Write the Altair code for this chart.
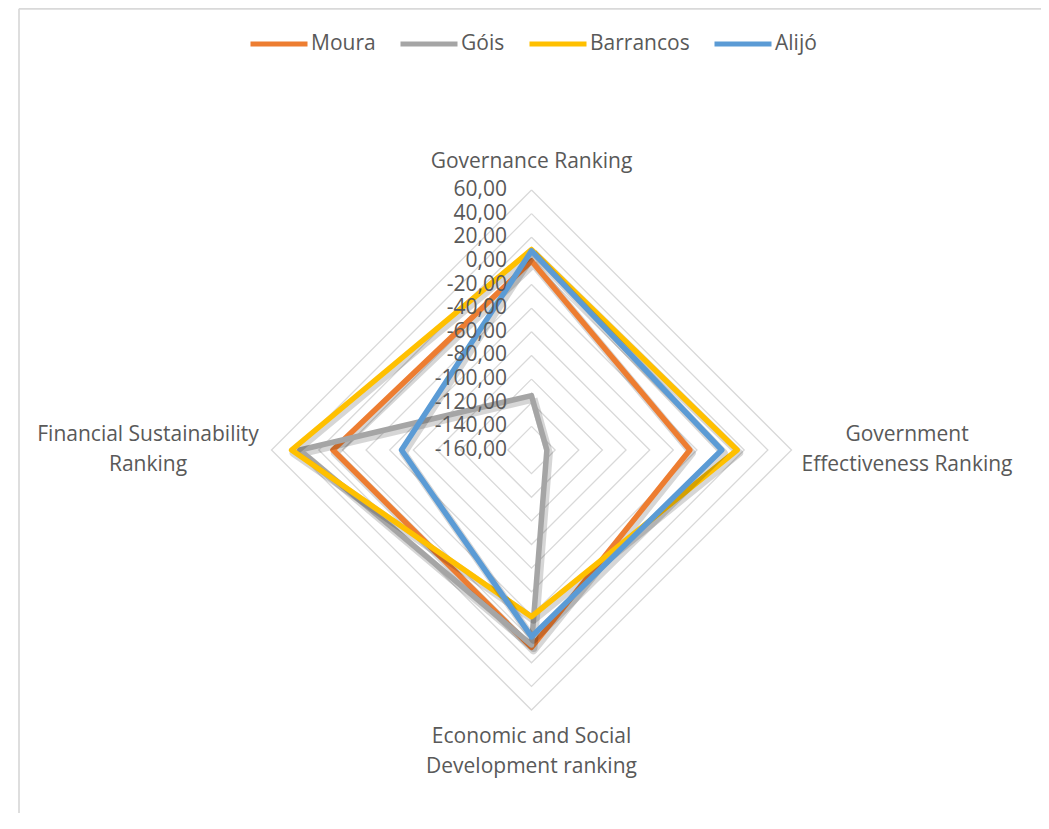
import altair as alt
import pandas as pd

# ---------------- data ----------------
axis_labels = [
    "Governance Ranking",
    "Government\nEffectiveness Ranking",
    "Economic and Social\nDevelopment ranking",
    "Financial Sustainability\nRanking",
]
series = ["Moura", "Góis", "Barrancos", "Alijó"]
moura = [0, -26, 7, 8]
gois = [-114, -147, 5, 36]
barrancos = [9.5, 14, -19, 43]
alijo = [8.5, 1, -2, -50]
ticks = [60, 40, 20, 0, -20, -40, -60, -80, -100, -120, -140, -160]
tick_labels = ["60,00", "40,00", "20,00", "0,00", "-20,00", "-40,00", "-60,00",
               "-80,00", "-100,00", "-120,00", "-140,00", "-160,00"]
colors = ["#ED7D31", "#A5A5A5", "#FFC000", "#5B9BD5"]

# ---------------- layout (page pixels) ----------------
W, H = 1033, 805
CX, CY, R = 531.5, 450.0, 260.0
VMIN, VMAX = -160.0, 60.0
LABEL_DIST = [288, 375.5, 302, 383.5]
LINE_H = 30
FONT = "Open Sans"
FS = 21
TXT = "#595959"
GRID = "#D9D9D9"

values = {"Moura": moura, "Góis": gois, "Barrancos": barrancos, "Alijó": alijo}
rows = []
for s in series:
    v = values[s]
    for k in range(5):
        rows.append({"series": s, "idx": k % 4, "ord": k, "value": v[k % 4]})
lines_df = pd.DataFrame(rows)

ring_rows = []
for t in ticks:
    for k in range(5):
        ring_rows.append({"t": t, "idx": k % 4, "ord": k, "value": t})
rings_df = pd.DataFrame(ring_rows)

ticks_df = pd.DataFrame({"value": ticks, "label": tick_labels, "idx": 0})
lab_df = pd.DataFrame({"label": axis_labels, "idx": list(range(4))})

r_expr = f"(datum.value - ({VMIN})) / ({VMAX - VMIN}) * {R}"
x_expr = f"{CX} + datum.r * sin(datum.idx * PI / 2)"
y_expr = f"{CY} - datum.r * cos(datum.idx * PI / 2)"

x_scale = alt.Scale(domain=[8, 8 + W], nice=False, zero=False)
y_scale = alt.Scale(domain=[8, 8 + H], nice=False, zero=False, reverse=True)
xs = alt.X("x:Q", scale=x_scale, axis=None)
ys = alt.Y("y:Q", scale=y_scale, axis=None)

color_scale = alt.Scale(domain=series, range=colors)
legend = alt.Legend(
    orient="none", legendX=240, legendY=5, direction="horizontal", title=None,
    symbolType="stroke", symbolSize=3249, symbolStrokeWidth=5,
    labelFontSize=FS, labelFont=FONT, labelColor=TXT, labelOffset=1,
    columnPadding=14, padding=0,
)

def polar(ch):
    return ch.transform_calculate(r=r_expr).transform_calculate(x=x_expr, y=y_expr)

rings = polar(alt.Chart(rings_df)).mark_line(color=GRID, strokeWidth=1.3).encode(
    x=xs, y=ys, detail="t:N", order="ord:Q"
)

layers = [rings]
for s in series:
    base = polar(alt.Chart(lines_df).transform_filter(alt.datum.series == s))
    shadow = base.mark_line(color="#000000", opacity=0.16, strokeWidth=8,
                            xOffset=2, yOffset=3, strokeJoin="round").encode(
        x=xs, y=ys, order="ord:Q")
    line = base.mark_line(strokeWidth=5.5, strokeJoin="round", strokeCap="round").encode(
        x=xs, y=ys, order="ord:Q",
        color=alt.Color("series:N", scale=color_scale, legend=legend),
    )
    layers += [shadow, line]

tick_text = polar(alt.Chart(ticks_df)).transform_calculate(tx="507").mark_text(
    align="right", baseline="middle", font=FONT, fontSize=FS, color=TXT
).encode(x=alt.X("tx:Q", scale=x_scale, axis=None), y=ys, text="label:N")

axis_text = alt.Chart(lab_df).transform_calculate(
    dist=f"[{','.join(str(d) for d in LABEL_DIST)}][datum.idx]",
    nl="length(split(datum.label, '\\n'))",
).transform_calculate(
    x=f"{CX} + datum.dist * sin(datum.idx * PI / 2)",
    y=f"{CY} - datum.dist * cos(datum.idx * PI / 2) - (datum.nl - 1) * {LINE_H} / 2",
).mark_text(
    align="center", baseline="middle", font=FONT, fontSize=FS, color=TXT,
    lineBreak="\n", lineHeight=LINE_H
).encode(x=xs, y=ys, text="label:N")

border = alt.Chart(pd.DataFrame({"k": [0]})).mark_rule(color=GRID, strokeWidth=1.7)
b_left = border.encode(x=alt.value(11), y=alt.value(0.8), y2=alt.value(H))
b_top = border.encode(x=alt.value(11), x2=alt.value(1034), y=alt.value(0.8))
b_right = border.encode(x=alt.value(1034), y=alt.value(0.8), y2=alt.value(H))

chart = alt.layer(b_left, b_top, b_right, *layers, tick_text, axis_text).properties(
    width=W, height=H, padding=0, autosize=alt.AutoSizeParams(type="none")
).configure_view(stroke=None)

chart.save("out.html", embed_options={"renderer": "svg", "actions": False})
